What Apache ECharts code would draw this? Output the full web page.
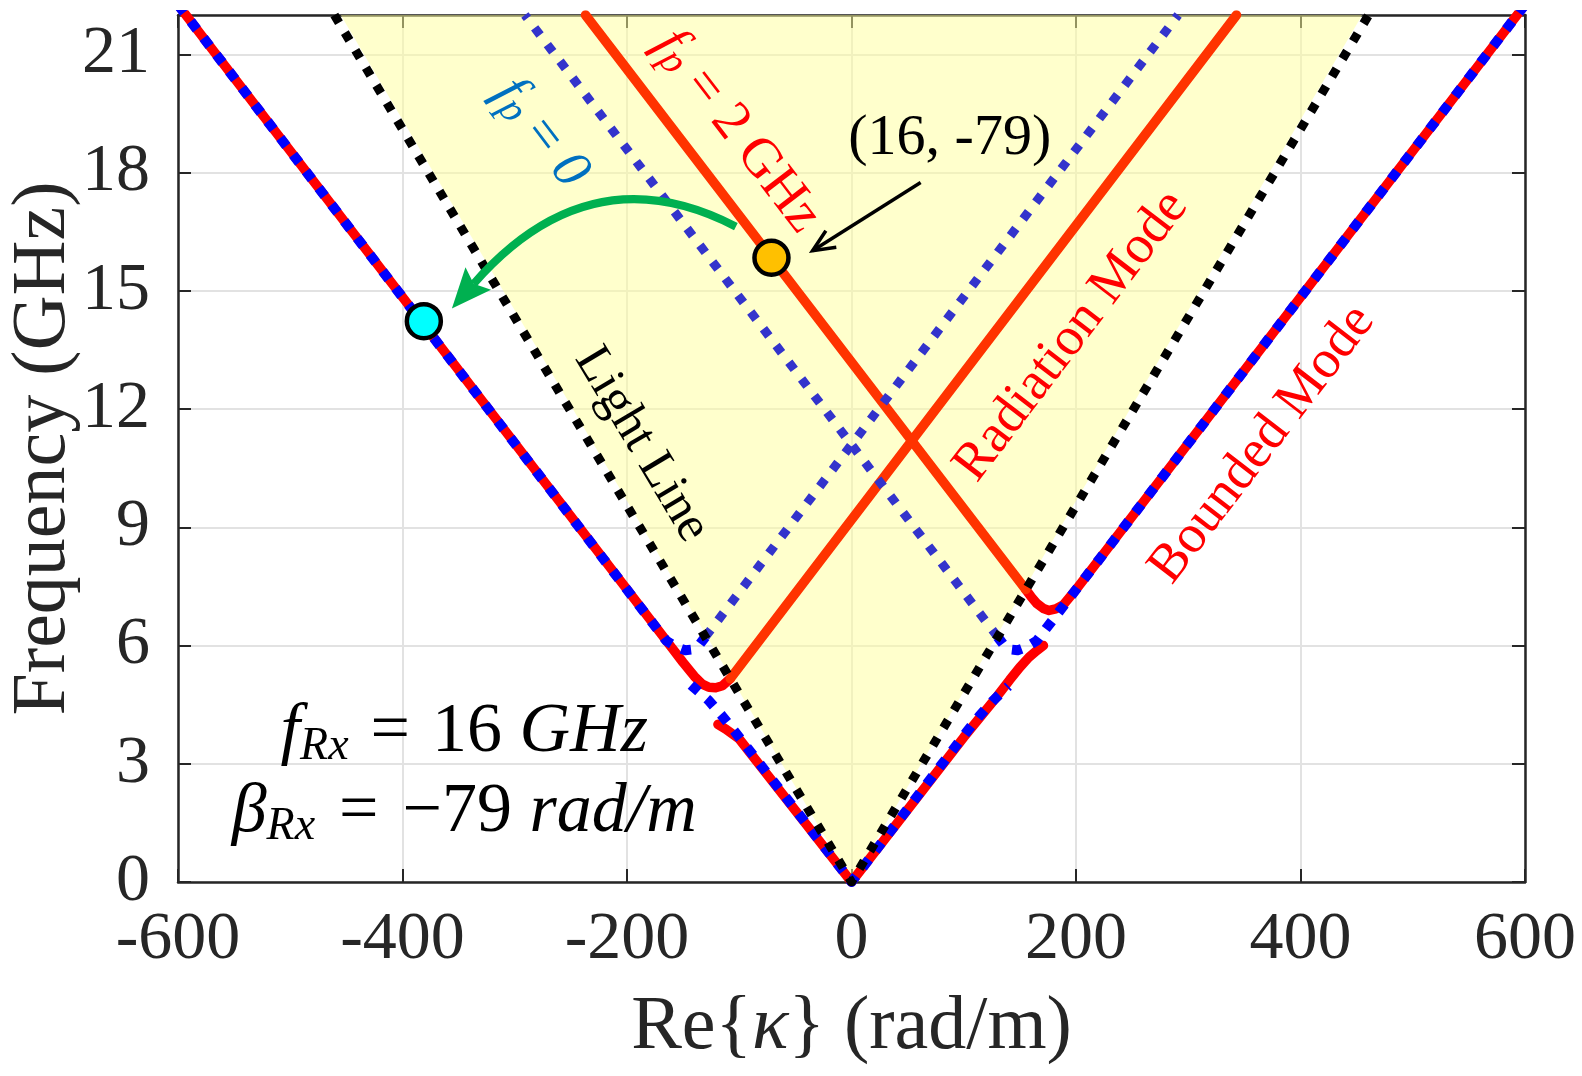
<!DOCTYPE html>
<html>
<head>
<meta charset="utf-8">
<script src="https://cdn.jsdelivr.net/npm/echarts@6.0.0/dist/echarts.min.js"></script>
<style>
html,body{margin:0;padding:0;background:#ffffff;}
#c{width:1582px;height:1076px;}
</style>
</head>
<body>
<div id="c"></div>
<script>
// ---------------- data ----------------
const xTicks = [-600, -400, -200, 0, 200, 400, 600];
const yTicks = [0, 3, 6, 9, 12, 15, 18, 21];
const yTop = 22;

// light line (light cone) and its filled interior
const lightLine = [[-460.7, 22], [0, 0], [460.7, 22]];
const coneFill = [[-455, 22], [0, 0], [455, 22]];

// f_p = 2 GHz (red): bounded parts (outside cone) and radiation parts (inside cone)
const redLeftBounded = [[-600, 22.26], [-160, 5.94], [-150, 5.57], [-140, 5.22], [-133, 5.02],
  [-127, 4.94], [-121, 4.93], [-115, 4.98], [-108, 5.16]];
const redRadiationUp = [[-108, 5.16], [343, 22]];
const redRadiationDown = [[-237, 22], [155.3, 7.42]];
const redRightBounded = [[155.3, 7.42], [160, 7.24], [165, 7.07], [171, 6.94], [176, 6.89],
  [182, 6.93], [189, 7.04], [200, 7.42], [600, 22.26]];
const redLower = [[-119, 4.0], [-112, 3.88], [-100, 3.63], [0, 0], [100, 3.67], [130, 4.72],
  [141, 5.13], [150, 5.45], [158, 5.7], [165, 5.87], [171, 6.0]];

// f_p = 0 (blue dotted)
const blueLeftOuter = [[-600, 22.26], [-165, 6.12], [-155, 5.95], [-148, 5.88], [-142, 5.9],
  [-136, 6.0], [-130.2, 6.22]];
const blueLeftInner = [[-130.2, 6.22], [291, 22]];
const blueRightOuter = [[600, 22.26], [165, 6.12], [155, 5.95], [148, 5.88], [142, 5.9],
  [136, 6.0], [130.2, 6.22]];
const blueRightInner = [[130.2, 6.22], [-291, 22]];
const blueLower = [[-143, 5.0], [-127.4, 4.61], [-115.7, 4.23], [-103.8, 3.81], [0, 0],
  [102.6, 3.81], [114.4, 4.23], [126.4, 4.61], [139.8, 4.97]];

// marked points
const rxPoint = [[-381, 14.23]];
const txPoint = [[-71.3, 15.84]];

// ---------------- chart ----------------
const SERIF = "'Liberation Serif', 'Times New Roman', serif";
const AX = '#262626';
const chart = echarts.init(document.getElementById('c'), null, {renderer: 'canvas'});

function lineSeries(data, color, width, dash, z) {
  return {
    type: 'line', data: data, symbol: 'none', smooth: false, clip: true, z: z,
    silent: true, animation: false,
    lineStyle: {color: color, width: width, type: dash || 'solid', opacity: 1,
      cap: dash ? 'butt' : 'round', join: 'round'}
  };
}
const DOT_BLUE = [10, 11];
const DOT_INNER = [9, 12];
const DOT_BLACK = [9, 11.5];

function axisCommon(extra) {
  return Object.assign({
    type: 'value',
    axisLine: {show: true, onZero: false, lineStyle: {color: AX, width: 2.5}},
    axisTick: {show: true, inside: true, length: 13, lineStyle: {color: AX, width: 2}},
    splitLine: {show: false},
    nameMoveOverlap: false
  }, extra);
}

const option = {
  backgroundColor: '#ffffff',
  animation: false,
  grid: {left: 178, right: 57, top: 15, bottom: 194, containLabel: false, outerBoundsMode: 'none'},
  xAxis: [
    axisCommon({
      position: 'bottom', min: xTicks[0], max: xTicks[xTicks.length - 1], interval: xTicks[1] - xTicks[0],
      axisLabel: {show: true, margin: 24, color: AX, fontFamily: SERIF, fontSize: 68, lineHeight: 68},
      splitLine: {show: true, lineStyle: {color: '#e2e2e2', width: 2}},
      name: 'Re{{k|κ}} (rad/m)', nameLocation: 'middle', nameGap: 108,
      nameTextStyle: {color: AX, fontFamily: SERIF, fontSize: 76, lineHeight: 76,
        rich: {k: {fontFamily: SERIF, fontStyle: 'italic', fontSize: 76, color: AX, lineHeight: 76}}}
    }),
    axisCommon({
      position: 'top', min: xTicks[0], max: xTicks[xTicks.length - 1], interval: xTicks[1] - xTicks[0],
      axisLabel: {show: false}
    })
  ],
  yAxis: [
    axisCommon({
      position: 'left', min: yTicks[0], max: yTop, interval: yTicks[1] - yTicks[0],
      axisLabel: {show: true, margin: 28, color: AX, fontFamily: SERIF, fontSize: 68,
        showMaxLabel: false, formatter: function (v) { return yTicks.indexOf(v) >= 0 ? String(v) : ''; }},
      splitLine: {show: true, lineStyle: {color: '#e2e2e2', width: 2}},
      name: 'Frequency (GHz)', nameLocation: 'middle', nameGap: 96,
      nameTextStyle: {color: AX, fontFamily: SERIF, fontSize: 76, lineHeight: 76}
    }),
    axisCommon({
      position: 'right', min: yTicks[0], max: yTop, interval: yTicks[1] - yTicks[0],
      axisLabel: {show: false}
    })
  ],
  series: [
    {
      type: 'line', data: coneFill, symbol: 'none', silent: true, z: 1, animation: false,
      lineStyle: {width: 0, opacity: 0},
      areaStyle: {origin: 'end', color: 'rgba(255,255,153,0.5)', opacity: 1}
    },
    lineSeries(redLeftBounded, '#ff0000', 9.5, null, 2),
    lineSeries(redRightBounded, '#ff0000', 9.5, null, 2),
    lineSeries(redLower, '#ff0000', 9.5, null, 2),
    lineSeries(redRadiationUp, '#ff3300', 9.5, null, 2),
    lineSeries(redRadiationDown, '#ff3300', 9.5, null, 2),
    lineSeries(blueLeftOuter, '#0000ff', 10, DOT_BLUE, 3),
    lineSeries(blueRightOuter, '#0000ff', 10, DOT_BLUE, 3),
    lineSeries(blueLower, '#0000ff', 10, DOT_BLUE, 3),
    lineSeries(blueLeftInner, '#3333cc', 9, DOT_INNER, 3),
    lineSeries(blueRightInner, '#3333cc', 9, DOT_INNER, 3),
    lineSeries(lightLine, '#000000', 9, DOT_BLACK, 4),
    {
      type: 'scatter', data: rxPoint, symbol: 'circle', symbolSize: 34, z: 6, silent: true,
      itemStyle: {color: '#00ffff', borderColor: '#000000', borderWidth: 4.5, opacity: 1}
    },
    {
      type: 'scatter', data: txPoint, symbol: 'circle', symbolSize: 34, z: 6, silent: true,
      itemStyle: {color: '#ffc000', borderColor: '#000000', borderWidth: 4.5, opacity: 1}
    }
  ]
};
chart.setOption(option);

// ---------------- annotations ----------------
function px(k, f) { return chart.convertToPixel({xAxisIndex: 0, yAxisIndex: 0}, [k, f]); }
function angleAlong(a, b) {
  const p = px(a[0], a[1]), q = px(b[0], b[1]);
  return -Math.atan2(q[1] - p[1], q[0] - p[0]);
}
function mathRich(color, main, sub, subLH, eqPad) {
  return {
    i: {fill: color, fontFamily: SERIF, fontStyle: 'italic', fontSize: main, lineHeight: main + 4},
    n: {fill: color, fontFamily: SERIF, fontSize: main, lineHeight: main + 4},
    s: {fill: color, fontFamily: SERIF, fontStyle: 'italic', fontSize: sub, lineHeight: subLH, verticalAlign: 'bottom'},
    e: {fill: color, fontFamily: SERIF, fontSize: main, lineHeight: main + 4, padding: [0, eqPad, 0, eqPad]}
  };
}
function rotText(k, f, ang, text, color, size, rich) {
  const p = px(k, f);
  const st = {text: text, fill: color, fontFamily: SERIF, fontSize: size, align: 'center', verticalAlign: 'middle'};
  if (rich) st.rich = rich;
  return {type: 'text', x: p[0], y: p[1], rotation: ang, z: 100, silent: true, style: st};
}

const gfx = [];
// light line label
gfx.push(rotText(-187, 11.1, angleAlong(lightLine[0], lightLine[1]), 'Light Line', '#000000', 51));
// radiation and bounded labels
gfx.push(rotText(196, 13.85, angleAlong(redRadiationUp[0], redRadiationUp[1]), 'Radiation Mode', '#ff0000', 54));
gfx.push(rotText(366, 11.1, angleAlong([200, 7.42], [600, 22.26]), 'Bounded Mode', '#ff0000', 54));
// f_p labels
gfx.push(rotText(-102, 19.05, angleAlong(redRadiationDown[0], redRadiationDown[1]),
  '{i|f}{s|p}{e|=}{n|2 GHz}', '#ff0000', 55, mathRich('#ff0000', 55, 40, 32, 14)));
gfx.push(rotText(-277, 19.0, angleAlong(blueRightInner[1], blueRightInner[0]),
  '{i|f}{s|p}{e|=}{i|0}', '#0070c0', 55, mathRich('#0070c0', 55, 40, 32, 14)));
// point label
(function () {
  const p = px(87.5, 18.87);
  gfx.push({type: 'text', x: p[0], y: p[1], z: 100, silent: true,
    style: {text: '(16, -79)', fill: '#000000', fontFamily: SERIF, fontSize: 58, align: 'center', verticalAlign: 'middle'}});
  // black arrow
  const a = px(61.6, 17.75), b = px(-34.7, 16.02);
  gfx.push({type: 'line', z: 100, silent: true, shape: {x1: a[0], y1: a[1], x2: b[0], y2: b[1]},
    style: {stroke: '#000000', lineWidth: 3.5}});
  const ang = Math.atan2(a[1] - b[1], a[0] - b[0]);
  const L = 24, w = 0.42;
  gfx.push({type: 'polyline', z: 100, silent: true,
    shape: {points: [[b[0] + L * Math.cos(ang + w), b[1] + L * Math.sin(ang + w)], [b[0], b[1]],
      [b[0] + L * Math.cos(ang - w), b[1] + L * Math.sin(ang - w)]]},
    style: {stroke: '#000000', lineWidth: 3.5, fill: null}});
})();
// green curved arrow from Tx point to Rx point
(function () {
  const s = px(-103, 16.63), c = px(-232.8, 18.55), t = px(-356, 14.55);
  let dx = t[0] - c[0], dy = t[1] - c[1];
  const d = Math.hypot(dx, dy); dx /= d; dy /= d;
  const len = 40, hw = 17;
  const base = [t[0] - len * dx, t[1] - len * dy];
  const back = [base[0] + 7 * dx, base[1] + 7 * dy];
  const c1 = [base[0] + hw * dy, base[1] - hw * dx];
  const c2 = [base[0] - hw * dy, base[1] + hw * dx];
  gfx.push({type: 'bezierCurve', z: 99, silent: true,
    shape: {x1: s[0], y1: s[1], cpx1: c[0], cpy1: c[1], x2: back[0], y2: back[1]},
    style: {stroke: '#00b050', lineWidth: 8, fill: null}});
  gfx.push({type: 'polygon', z: 100, silent: true, shape: {points: [t, c1, back, c2]},
    style: {fill: '#00b050'}});
})();
// receiver equations
(function () {
  const p1 = px(-345, 3.78), p2 = px(-345, 1.75);
  gfx.push({type: 'text', x: p1[0], y: p1[1], z: 100, silent: true,
    style: {text: '{i|f}{s|Rx}{e|=}{n|16 }{i|GHz}', fill: '#000000', fontFamily: SERIF, fontSize: 70,
      align: 'center', verticalAlign: 'middle', rich: mathRich('#000000', 70, 46, 36, 22)}});
  gfx.push({type: 'text', x: p2[0], y: p2[1], z: 100, silent: true,
    style: {text: '{i|β}{s|Rx}{e|=}{n|−79 }{i|rad/m}', fill: '#000000', fontFamily: SERIF, fontSize: 70,
      align: 'center', verticalAlign: 'middle', rich: mathRich('#000000', 70, 46, 30, 24)}});
})();
chart.setOption({graphic: gfx});
</script>
</body>
</html>
